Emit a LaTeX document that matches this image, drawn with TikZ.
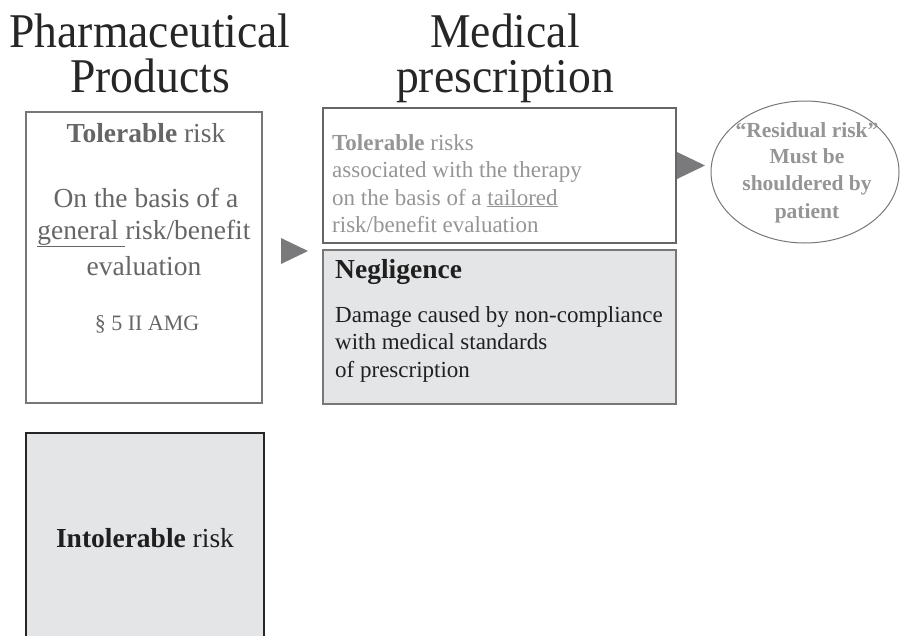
\documentclass[tikz,border=0pt]{standalone}
\usepackage{fontspec}
\setmainfont{Liberation Serif}
\newfontfamily\condserif[FakeStretch=0.94]{Liberation Serif}
\usetikzlibrary{shapes.geometric}
\definecolor{txtgray}{HTML}{666666}
\definecolor{lightgray}{HTML}{959595}
\definecolor{boxgray}{HTML}{777777}
\definecolor{fillgray}{HTML}{E4E5E7}
\definecolor{trigray}{HTML}{7A7A7C}
\tikzset{
  title/.style={font=\condserif\fontsize{48.5}{45}\selectfont, text=black!85, anchor=base, inner sep=0pt, align=center},
  boxl/.style={draw=boxgray, line width=1.4pt},
  boxfill/.style={draw=boxgray, fill=fillgray, line width=1.4pt},
  boxdark/.style={draw=black!85, fill=fillgray, line width=1.6pt},
  ltxt/.style={font=\fontsize{27.5}{30}\selectfont, text=txtgray, anchor=base, inner sep=0pt},
  mtxt/.style={font=\fontsize{23}{26}\selectfont, text=lightgray, anchor=base west, inner sep=0pt},
  ntxt/.style={font=\fontsize{23}{26}\selectfont, text=black!88, anchor=base west, inner sep=0pt},
  etxt/.style={font=\fontsize{21.5}{26}\selectfont\bfseries, text=lightgray, anchor=base, inner sep=0pt},
  tri/.style={fill=trigray, draw=none},
}
\begin{document}
\begin{tikzpicture}[x=1pt,y=-1pt]
\useasboundingbox (0,0) rectangle (902,635);
% titles
\node[title] (t1) at (150,92) {Pharmaceutical\\Products};
\node[title] (t3) at (505,92) {Medical\\prescription};
% left box
\node[boxl, minimum width=236pt, minimum height=291pt, inner sep=0pt] (lbox) at (144,257.5) {};
\node[ltxt] (l1) at (146,142) {\textbf{Tolerable} risk};
\node[ltxt] (l2) at (146,207) {On the basis of a};
\node[ltxt] (l3) at (144,239) {\underline{general\ }risk/benefit};
\node[ltxt] (l4) at (144,275) {evaluation};
\node[ltxt, font=\fontsize{22}{24}\selectfont] (l5) at (147,330) {\S\ 5 II AMG};
% intolerable box
\node[boxdark, minimum width=238pt, minimum height=210pt, inner sep=0pt] (ibox) at (145,538) {};
\node[ltxt, text=black!88] (i1) at (145,547) {\textbf{Intolerable} risk};
% middle top box
\node[boxl, draw=txtgray, minimum width=353pt, minimum height=135pt, inner sep=0pt] (mbox) at (499.5,175.5) {};
\node[mtxt] (m1) at (332,150) {\textbf{Tolerable} risks};
\node[mtxt] (m2) at (332,177) {associated with the therapy};
\node[mtxt] (m3) at (332,205) {on the basis of a \underline{tailored}};
\node[mtxt] (m4) at (332,232) {risk/benefit evaluation};
% negligence box
\node[boxfill, minimum width=353pt, minimum height=154pt, inner sep=0pt] (nbox) at (499.5,327) {};
\node[ntxt, font=\fontsize{27.5}{30}\selectfont\bfseries] (n1) at (335,278) {Negligence};
\node[ntxt] (n2) at (335,322) {Damage caused by non-compliance};
\node[ntxt] (n3) at (335,349) {with medical standards};
\node[ntxt] (n4) at (335,377) {of prescription};
% ellipse
\node[ellipse, draw=boxgray, line width=1pt, minimum width=188pt, minimum height=142pt, inner sep=0pt] (ell) at (805,172) {};
\node[etxt] (e1) at (807,137) {``Residual risk''};
\node[etxt] (e2) at (807,163) {Must be};
\node[etxt] (e3) at (807,190) {shouldered by};
\node[etxt] (e4) at (807,218) {patient};
% triangles
\coordinate (a1) at (281,238);
\coordinate (a2) at (281,264);
\coordinate (a3) at (308,251);
\fill[tri] (a1) -- (a3) -- (a2) -- cycle;
\coordinate (b1) at (677,152);
\coordinate (b2) at (677,179);
\coordinate (b3) at (705,165.5);
\fill[tri] (b1) -- (b3) -- (b2) -- cycle;
\end{tikzpicture}
\end{document}
